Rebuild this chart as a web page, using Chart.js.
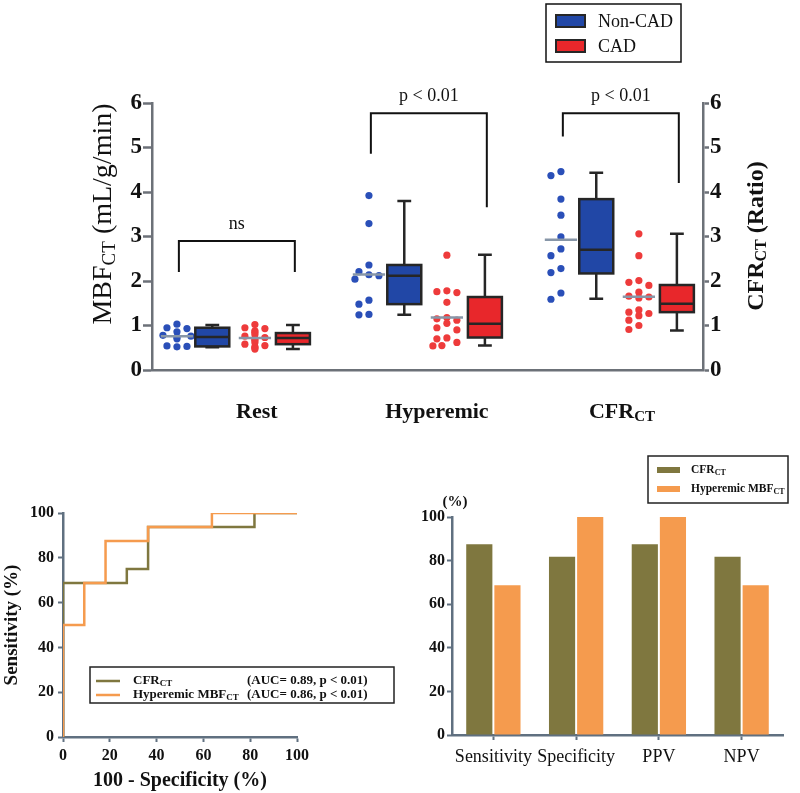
<!DOCTYPE html>
<html>
<head>
<meta charset="utf-8">
<script src="https://cdn.jsdelivr.net/npm/chart.js@4.4.1/dist/chart.umd.min.js"></script>
<style>
  body { margin: 0; background: #fff; width: 800px; height: 793px; position: relative; overflow: hidden; }
  canvas { position: absolute; }
  #top { left: 0; top: 0; width: 800px; height: 440px; }
  #roc { left: 0; top: 470px; width: 400px; height: 323px; }
  #bars { left: 400px; top: 440px; width: 400px; height: 353px; }
</style>
</head>
<body>
<canvas id="top" width="800" height="440"></canvas>
<canvas id="roc" width="400" height="323"></canvas>
<canvas id="bars" width="400" height="353"></canvas>
<script>
// ---- data: MBF / CFR per patient ----
const groupNames = ['Rest', 'Hyperemic', 'CFR'];
const restNonCad = [1.03, 0.95, 0.93, 0.86, 0.78, 0.76, 0.74, 0.70, 0.54, 0.53, 0.52];
const restCad = [1.02, 0.95, 0.93, 0.88, 0.85, 0.80, 0.76, 0.73, 0.70, 0.67, 0.62, 0.58, 0.55, 0.52, 0.50, 0.47];
const hypNonCad = [3.92, 3.29, 2.36, 2.21, 2.14, 2.12, 2.04, 1.57, 1.48, 1.25, 1.24];
const hypCad = [2.58, 1.78, 1.76, 1.74, 1.52, 1.18, 1.15, 1.12, 1.05, 0.95, 0.90, 0.72, 0.70, 0.62, 0.55, 0.54];
const cfrNonCad = [4.46, 4.37, 3.84, 3.48, 2.99, 2.72, 2.57, 2.28, 2.19, 1.73, 1.59];
const cfrCad = [3.06, 2.57, 2.01, 1.97, 1.90, 1.75, 1.66, 1.64, 1.62, 1.35, 1.30, 1.27, 1.22, 1.12, 1.00, 0.91];

// box plots: [min, q1, median, q3, max]
const boxRestNonCad = [0.51, 0.53, 0.74, 0.95, 1.01];
const boxRestCad = [0.47, 0.58, 0.72, 0.83, 1.01];
const boxHypNonCad = [1.24, 1.48, 2.12, 2.36, 3.80];
const boxHypCad = [0.55, 0.73, 1.04, 1.64, 2.59];
const boxCfrNonCad = [1.60, 2.17, 2.70, 3.84, 4.43];
const boxCfrCad = [0.89, 1.30, 1.49, 1.91, 3.06];

// significance brackets: label, top, left end, right end
const bracketLabels = ['ns', 'p < 0.01', 'p < 0.01'];
const bracketTop = [2.9, 5.77, 5.77];
const bracketLeftEnd = [2.2, 4.86, 5.25];
const bracketRightEnd = [2.2, 3.66, 4.2];

// ROC curves (100 - specificity, sensitivity)
const rocCfrX = [0, 0, 27.27, 36.36, 81.82, 100];
const rocCfrY = [0, 68.75, 75, 93.75, 100, 100];
const rocHypX = [0, 0, 9.09, 18.18, 36.36, 63.64, 100];
const rocHypY = [0, 50, 68.75, 87.5, 93.75, 100, 100];
const aucLabels = ['(AUC= 0.89, p < 0.01)', '(AUC= 0.86, p < 0.01)'];

// diagnostic performance
const metrics = ['Sensitivity', 'Specificity', 'PPV', 'NPV'];
const cfrPerf = [87.5, 81.82, 87.5, 81.82];
const hypPerf = [68.75, 100, 100, 68.75];

// ---- styles ----
const FONT = '"Liberation Serif", "Times New Roman", serif';
Chart.defaults.font.family = FONT;
Chart.defaults.color = '#111';
const BLUE = '#2147a6', RED = '#e8272b';
const DOT_BLUE = '#2a4fb8', DOT_RED = '#ee3b3b';
const OLIVE = '#7f773f', ORANGE = '#f59b4e';
const AXIS = '#6c7178', AXIS2 = '#607080';

// layout in x-axis units (one group every 5 units)
const PX_X = 38.4, PX_Y = 44.5;
const SUB = [0, 0.92, 2.03, 3.02]; // dots A, box A, dots B, box B
const BOX_W = 0.885, CAP_W = 0.36, MEAN_W = 0.84;
const catLabelX = [2.08, 6.77, 11.59];

function swarm(values, center) {
  const placed = [];
  const steps = [0, -10, 10, -5, 5, -14, 14];
  return values.map(v => {
    const py = v * PX_Y;
    let off = 0;
    for (const s of steps) {
      if (placed.every(p => (p.x - s) ** 2 + (p.y - py) ** 2 >= 64)) { off = s; break; }
    }
    placed.push({ x: off, y: py });
    return { x: center + off / PX_X, y: v };
  });
}

function richText(ctx, parts, x, y, size, weight, align) {
  const f = sub => weight + ' ' + (sub ? Math.round(size * 0.68) : size) + 'px ' + FONT;
  let w = 0;
  parts.forEach(p => { ctx.font = f(p[1]); w += ctx.measureText(p[0]).width; });
  let cx = align === 'center' ? x - w / 2 : x;
  ctx.textAlign = 'left';
  ctx.textBaseline = 'middle';
  parts.forEach(p => {
    ctx.font = f(p[1]);
    ctx.fillText(p[0], cx, p[1] ? y + size * 0.22 : y);
    cx += ctx.measureText(p[0]).width;
  });
}

const dotSets = [restNonCad, restCad, hypNonCad, hypCad, cfrNonCad, cfrCad];
const boxSets = [boxRestNonCad, boxRestCad, boxHypNonCad, boxHypCad, boxCfrNonCad, boxCfrCad];

const topDatasets = dotSets.map((vals, i) => {
  const g = Math.floor(i / 2), cad = i % 2 === 1;
  return {
    data: swarm(vals, g * 5 + SUB[cad ? 2 : 0]),
    backgroundColor: cad ? DOT_RED : DOT_BLUE,
    borderWidth: 0,
    pointRadius: 3.6
  };
});

const topDecor = {
  id: 'topDecor',
  afterDraw(chart) {
    const { ctx, scales: { x, y } } = chart;
    const X = v => x.getPixelForValue(v), Y = v => y.getPixelForValue(v);
    ctx.save();
    // mean lines
    dotSets.forEach((vals, i) => {
      const g = Math.floor(i / 2), c = g * 5 + SUB[i % 2 ? 2 : 0];
      const m = vals.reduce((a, b) => a + b, 0) / vals.length;
      ctx.strokeStyle = '#8796a8';
      ctx.lineWidth = 2.5;
      ctx.beginPath();
      ctx.moveTo(X(c - MEAN_W / 2), Y(m));
      ctx.lineTo(X(c + MEAN_W / 2), Y(m));
      ctx.stroke();
    });
    // box plots
    boxSets.forEach((b, i) => {
      const g = Math.floor(i / 2), cad = i % 2 === 1;
      const c = g * 5 + SUB[cad ? 3 : 1];
      const [mn, q1, md, q3, mx] = b;
      const l = X(c - BOX_W / 2), r = X(c + BOX_W / 2), cx = X(c);
      ctx.strokeStyle = '#262626';
      ctx.lineWidth = 2.5;
      ctx.beginPath();
      ctx.moveTo(cx, Y(mx)); ctx.lineTo(cx, Y(q3));
      ctx.moveTo(cx, Y(q1)); ctx.lineTo(cx, Y(mn));
      ctx.moveTo(X(c - CAP_W / 2), Y(mx)); ctx.lineTo(X(c + CAP_W / 2), Y(mx));
      ctx.moveTo(X(c - CAP_W / 2), Y(mn)); ctx.lineTo(X(c + CAP_W / 2), Y(mn));
      ctx.stroke();
      ctx.fillStyle = cad ? RED : BLUE;
      ctx.fillRect(l, Y(q3), r - l, Y(q1) - Y(q3));
      ctx.strokeRect(l, Y(q3), r - l, Y(q1) - Y(q3));
      ctx.beginPath();
      ctx.moveTo(l, Y(md)); ctx.lineTo(r, Y(md));
      ctx.stroke();
    });
    // brackets
    ctx.strokeStyle = '#111';
    ctx.lineWidth = 2;
    ctx.fillStyle = '#111';
    bracketLabels.forEach((lab, g) => {
      const a = X(g * 5 + SUB[0] + 0.05), b = X(g * 5 + SUB[3] + 0.05);
      ctx.beginPath();
      ctx.moveTo(a, Y(bracketLeftEnd[g]));
      ctx.lineTo(a, Y(bracketTop[g]));
      ctx.lineTo(b, Y(bracketTop[g]));
      ctx.lineTo(b, Y(bracketRightEnd[g]));
      ctx.stroke();
      ctx.font = '18px ' + FONT;
      ctx.textAlign = 'center';
      ctx.textBaseline = 'bottom';
      ctx.fillText(lab, (a + b) / 2, Y(bracketTop[g]) - 8);
    });
    // group labels
    const catParts = [[['Rest', false]], [['Hyperemic', false]], [['CFR', false], ['CT', true]]];
    catParts.forEach((parts, g) => richText(ctx, parts, X(catLabelX[g]), 412, 22, 'bold', 'center'));
    // axis titles
    ctx.save();
    ctx.translate(104, 214);
    ctx.rotate(-Math.PI / 2);
    richText(ctx, [['MBF', false], ['CT', true], [' (mL/g/min)', false]], 0, 0, 28, 'normal', 'center');
    ctx.restore();
    ctx.save();
    ctx.translate(757, 236);
    ctx.rotate(-Math.PI / 2);
    richText(ctx, [['CFR', false], ['CT', true], [' (Ratio)', false]], 0, 0, 24, 'bold', 'center');
    ctx.restore();
    // legend
    ctx.lineWidth = 1.5;
    ctx.strokeStyle = '#111';
    ctx.strokeRect(546, 4, 135, 58);
    [[BLUE, 'Non-CAD', 21], [RED, 'CAD', 46]].forEach(([col, txt, yy]) => {
      ctx.fillStyle = col;
      ctx.fillRect(556, yy - 6, 29, 12);
      ctx.lineWidth = 2;
      ctx.strokeStyle = '#262626';
      ctx.strokeRect(556, yy - 6, 29, 12);
      ctx.fillStyle = '#111';
      ctx.font = '18px ' + FONT;
      ctx.textAlign = 'left';
      ctx.textBaseline = 'middle';
      ctx.fillText(txt, 598, yy + 1);
    });
    ctx.restore();
  }
};

const yAxisTop = (pos, width, tickLen) => ({
  position: pos,
  min: 0,
  max: 6,
  ticks: { stepSize: 1, font: { size: 23, weight: 'bold' }, color: '#111', padding: 1 },
  grid: { drawOnChartArea: false, tickLength: tickLen, tickWidth: 2.5, tickColor: AXIS },
  border: { color: AXIS, width: 2.5 },
  afterFit(s) { s.width = width; }
});

new Chart(document.getElementById('top'), {
  type: 'scatter',
  data: { datasets: topDatasets },
  options: {
    responsive: false,
    animation: false,
    layout: { padding: { top: 103, left: 0, right: 0, bottom: 0 } },
    plugins: { legend: { display: false }, tooltip: { enabled: false } },
    scales: {
      x: {
        type: 'linear', min: -0.65, max: 13.7,
        grid: { display: false },
        ticks: { display: false },
        border: { color: AXIS, width: 2.5 },
        afterFit(s) { s.height = 70; }
      },
      y: yAxisTop('left', 152, 9),
      y2: yAxisTop('right', 97, 6)
    }
  },
  plugins: [topDecor]
});

// ---- ROC ----
const rocDecor = {
  id: 'rocDecor',
  afterDraw(chart) {
    const ctx = chart.ctx;
    ctx.save();
    ctx.strokeStyle = '#222';
    ctx.lineWidth = 1.5;
    ctx.strokeRect(90, 197, 304, 36);
    [[OLIVE, [['CFR', false], ['CT', true]], 211], [ORANGE, [['Hyperemic MBF', false], ['CT', true]], 225]].forEach(([col, parts, yy], i) => {
      ctx.strokeStyle = col;
      ctx.lineWidth = 2.5;
      ctx.beginPath();
      ctx.moveTo(96, yy); ctx.lineTo(120, yy);
      ctx.stroke();
      ctx.fillStyle = '#111';
      richText(ctx, parts, 133, yy, 13, 'bold', 'left');
      richText(ctx, [[aucLabels[i], false]], 247, yy, 13, 'bold', 'left');
    });
    ctx.restore();
  }
};

const pts = (xs, ys) => xs.map((v, i) => ({ x: v, y: ys[i] }));
const axis2 = (extra) => Object.assign({
  grid: { drawOnChartArea: false, tickLength: 5, tickWidth: 2, tickColor: AXIS2 },
  border: { color: AXIS2, width: 2.5 }
}, extra);

new Chart(document.getElementById('roc'), {
  type: 'scatter',
  data: {
    datasets: [
      { data: pts(rocHypX, rocHypY), showLine: true, stepped: 'before', borderColor: ORANGE, borderWidth: 2.5, pointRadius: 0, order: 1 },
      { data: pts(rocCfrX, rocCfrY), showLine: true, stepped: 'before', borderColor: OLIVE, borderWidth: 2.5, pointRadius: 0, order: 2 }
    ]
  },
  options: {
    responsive: false,
    animation: false,
    layout: { padding: { top: 43, right: 103, left: 0, bottom: 0 } },
    plugins: { legend: { display: false }, tooltip: { enabled: false } },
    scales: {
      x: axis2({
        type: 'linear', min: 0, max: 100,
        ticks: { stepSize: 20, font: { size: 16, weight: 'bold' }, color: '#111', padding: 4 },
        title: { display: true, text: '100 - Specificity (%)', font: { size: 20, weight: 'bold' }, color: '#111', padding: 0 },
        afterFit(s) { s.height = 56; }
      }),
      y: axis2({
        min: 0, max: 100,
        ticks: { stepSize: 20, font: { size: 16, weight: 'bold' }, color: '#111', padding: 4 },
        title: { display: true, text: 'Sensitivity (%)', font: { size: 19, weight: 'bold' }, color: '#111', padding: 1 },
        afterFit(s) { s.width = 63; }
      })
    }
  },
  plugins: [rocDecor]
});

// ---- diagnostic performance bars ----
const barDecor = {
  id: 'barDecor',
  afterDraw(chart) {
    const ctx = chart.ctx;
    ctx.save();
    ctx.fillStyle = '#111';
    ctx.font = 'bold 15px ' + FONT;
    ctx.textAlign = 'center';
    ctx.textBaseline = 'middle';
    ctx.fillText('(%)', 55, 62);
    ctx.strokeStyle = '#222';
    ctx.lineWidth = 1.5;
    ctx.strokeRect(248, 16, 140, 47);
    [[OLIVE, [['CFR', false], ['CT', true]], 30], [ORANGE, [['Hyperemic MBF', false], ['CT', true]], 49]].forEach(([col, parts, yy]) => {
      ctx.fillStyle = col;
      ctx.fillRect(257, yy - 3, 23, 6);
      ctx.fillStyle = '#111';
      richText(ctx, parts, 291, yy, 11.5, 'bold', 'left');
    });
    ctx.restore();
  }
};

new Chart(document.getElementById('bars'), {
  type: 'bar',
  data: {
    labels: metrics,
    datasets: [
      { data: cfrPerf, backgroundColor: OLIVE, categoryPercentage: 0.68, barPercentage: 0.93 },
      { data: hypPerf, backgroundColor: ORANGE, categoryPercentage: 0.68, barPercentage: 0.93 }
    ]
  },
  options: {
    responsive: false,
    animation: false,
    layout: { padding: { top: 77, right: 17, left: 0, bottom: 0 } },
    plugins: { legend: { display: false }, tooltip: { enabled: false } },
    scales: {
      x: axis2({
        grid: { drawOnChartArea: false, offset: false, tickLength: 5, tickWidth: 2, tickColor: AXIS2 },
        ticks: { font: { size: 18 }, color: '#111', padding: 6, maxRotation: 0, minRotation: 0, autoSkip: false },
        afterFit(s) { s.height = 58; }
      }),
      y: axis2({
        min: 0, max: 100,
        ticks: { stepSize: 20, font: { size: 16, weight: 'bold' }, color: '#111', padding: 2 },
        afterFit(s) { s.width = 52; }
      })
    }
  },
  plugins: [barDecor]
});
</script>
</body>
</html>
